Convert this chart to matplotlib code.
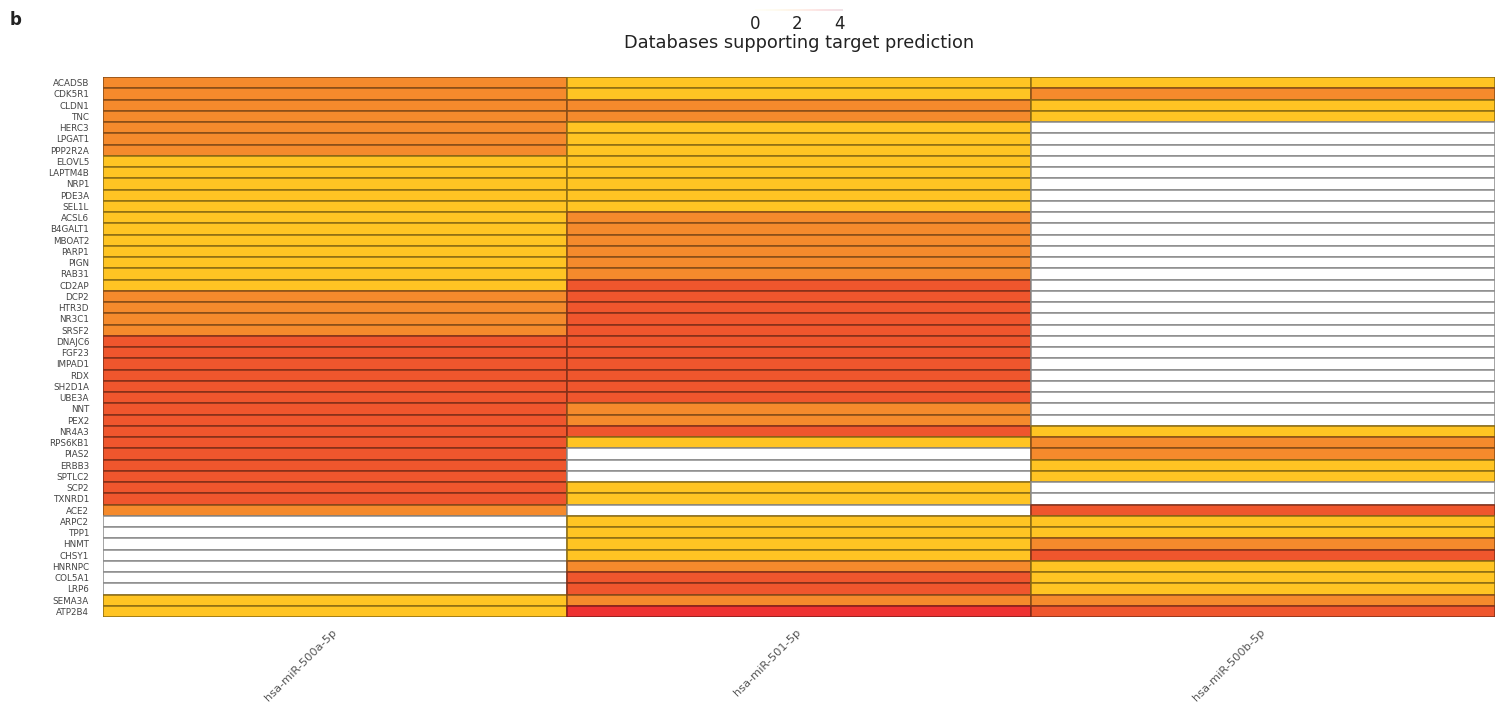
import matplotlib

matplotlib.use("Agg")
import matplotlib.pyplot as plt  # noqa: E402
import numpy as np  # noqa: E402
from matplotlib.colors import BoundaryNorm, ListedColormap, to_rgb  # noqa: E402

genes = [
    "ACADSB", "CDK5R1", "CLDN1", "TNC", "HERC3", "LPGAT1", "PPP2R2A", "ELOVL5",
    "LAPTM4B", "NRP1", "PDE3A", "SEL1L", "ACSL6", "B4GALT1", "MBOAT2", "PARP1",
    "PIGN", "RAB31", "CD2AP", "DCP2", "HTR3D", "NR3C1", "SRSF2", "DNAJC6",
    "FGF23", "IMPAD1", "RDX", "SH2D1A", "UBE3A", "NNT", "PEX2", "NR4A3",
    "RPS6KB1", "PIAS2", "ERBB3", "SPTLC2", "SCP2", "TXNRD1", "ACE2", "ARPC2",
    "TPP1", "HNMT", "CHSY1", "HNRNPC", "COL5A1", "LRP6", "SEMA3A", "ATP2B4",
]
mirnas = ["hsa-miR-500a-5p", "hsa-miR-501-5p", "hsa-miR-500b-5p"]

# number of databases supporting each prediction (0 = none)
mir_500a = [2, 2, 2, 2, 2, 2, 2, 1, 1, 1, 1, 1, 1, 1, 1, 1,
            1, 1, 1, 2, 2, 2, 2, 3, 3, 3, 3, 3, 3, 3, 3, 3,
            3, 3, 3, 3, 3, 3, 2, 0, 0, 0, 0, 0, 0, 0, 1, 1]
mir_501 = [1, 1, 2, 2, 1, 1, 1, 1, 1, 1, 1, 1, 2, 2, 2, 2,
           2, 2, 3, 3, 3, 3, 3, 3, 3, 3, 3, 3, 3, 2, 2, 3,
           1, 0, 0, 0, 1, 1, 0, 1, 1, 1, 1, 2, 3, 3, 2, 4]
mir_500b = [1, 2, 1, 1, 0, 0, 0, 0, 0, 0, 0, 0, 0, 0, 0, 0,
            0, 0, 0, 0, 0, 0, 0, 0, 0, 0, 0, 0, 0, 0, 0, 1,
            2, 2, 1, 1, 0, 0, 3, 1, 1, 2, 3, 1, 1, 1, 2, 3]

level_colors = ["#ffffff", "#ffc423", "#f58a2c", "#ef562d", "#ee3131"]
cmap = ListedColormap(level_colors)
norm = BoundaryNorm(np.arange(-0.5, 5.5, 1), cmap.N)


def edge_for(value):
    if value == 0:
        return "#8c8c8c"
    r, g, b = to_rgb(level_colors[value])
    return (r * 0.55, g * 0.55, b * 0.55)


W, H = 1495, 711
fig = plt.figure(figsize=(W / 100, H / 100), dpi=100)
ax = fig.add_axes([103 / W, 1 - 617 / H, (W - 103) / W, 540 / H])

rows = np.arange(len(genes))
for j, values in enumerate([mir_500a, mir_501, mir_500b]):
    ax.barh(rows, 1, left=j, height=1,
            color=[cmap(norm(v)) for v in values],
            edgecolor=[edge_for(v) for v in values], linewidth=1.1)

ax.set_xlim(0, 3)
ax.set_ylim(len(genes) - 0.5, -0.5)
ax.set_yticks(rows)
ax.set_yticklabels(genes, fontsize=6.3, color="#444444")
ax.set_xticks(np.arange(len(mirnas)) + 0.5)
ax.set_xticklabels(mirnas, fontsize=8.2, color="#555555", rotation=45,
                   ha="right", va="center", rotation_mode="anchor")
ax.tick_params(axis="y", length=0, pad=10)
ax.tick_params(axis="x", length=0, pad=10)
for s in ax.spines.values():
    s.set_visible(False)

# faint colour key at the top
cax = fig.add_axes([755 / W, 1 - 11 / H, 88 / W, 2 / H])
cax.imshow(np.linspace(0, 4, 100)[None, :], aspect="auto", cmap="YlOrRd",
           alpha=0.12, extent=(0, 4, 0, 1))
cax.set_axis_off()
for v in [0, 2, 4]:
    fig.text((755 + v / 4 * 85) / W, 1 - 24 / H, str(v), ha="center",
             va="center", fontsize=12, color="#222222")
fig.text(799 / W, 1 - 43 / H, "Databases supporting target prediction",
         ha="center", va="center", fontsize=12.8, color="#222222")
fig.text(10 / W, 1 - 20 / H, "b", ha="left", va="center", fontsize=12,
         fontweight="bold", color="#222222")

fig.savefig("out.png", dpi=100)
